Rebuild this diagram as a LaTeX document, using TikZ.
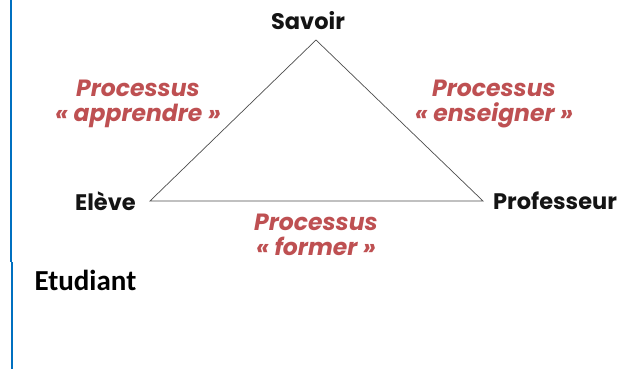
\documentclass[tikz,border=0pt]{standalone}
\usepackage{fontspec}
\setmainfont{Poppins}
\newfontfamily\calfont{Carlito}
\usetikzlibrary{positioning}
\definecolor{rosewood}{RGB}{190,80,82}
\definecolor{wordblue}{RGB}{0,112,192}
\definecolor{ink}{RGB}{20,20,20}
\tikzset{
  pole/.style={font=\fontsize{22.5}{22.5}\selectfont\bfseries,text=ink,inner sep=1pt},
  process/.style={font=\fontsize{23.5}{25}\selectfont\bfseries\itshape,text=rosewood,align=center,inner sep=0pt},
  side/.style={draw=black!70,line width=0.7pt},
}
\begin{document}
\begin{tikzpicture}[x=1pt,y=-1pt]
  \useasboundingbox (0,0) rectangle (638,369);
  % margin rule
  \draw[wordblue,line width=1.4pt] (11,0) -- (11,262);
  \draw[wordblue,line width=2.2pt] (11.8,262) -- (11.8,369);
  % corners of the triangle
  \coordinate (top) at (316,40);
  \coordinate (left) at (150,201);
  \coordinate (right) at (483,201);
  \draw[side] (top) -- (left) -- (right) -- cycle;
  \node[pole,anchor=base] (savoir) at (308,30) {Savoir};
  \node[pole,left=13pt of left] (eleve) {Elève};
  \node[pole,right=9pt of right] (prof) {Professeur};
  \node[font=\calfont\fontsize{29}{29}\selectfont\bfseries,text=black,anchor=base west] (etudiant) at (31,290) {Etudiant};
  % processus
  \node[process] (apprendre) at (138,104) {Processus\\« apprendre »};
  \node[process] (enseigner) at (494,104) {Processus\\« enseigner »};
  \node[process] (former) at (316,234.5) {Processus\\« former »};
\end{tikzpicture}
\end{document}
